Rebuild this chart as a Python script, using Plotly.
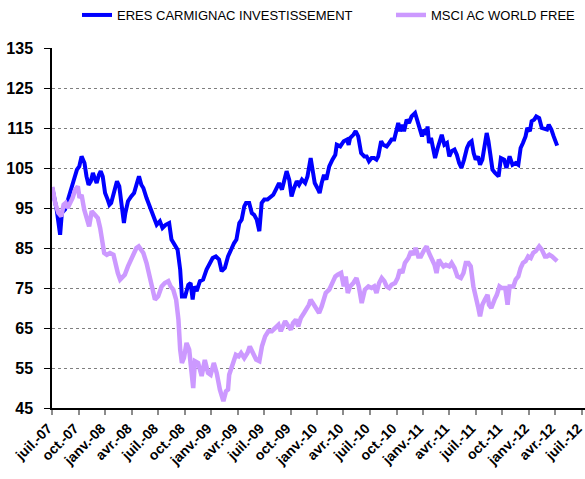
import plotly.graph_objects as go

# ---------------- data ----------------
fund_name = "ERES CARMIGNAC INVESTISSEMENT"
index_name = "MSCI AC WORLD FREE"

fund_dates = [
    "2007-07-02", "2007-07-17", "2007-07-29", "2007-08-04", "2007-08-15", "2007-08-24", "2007-09-02", "2007-09-13", "2007-09-25",
    "2007-10-03", "2007-10-11", "2007-10-21", "2007-10-28", "2007-11-04", "2007-11-12", "2007-11-19", "2007-11-27",
    "2007-12-02", "2007-12-10", "2007-12-16", "2007-12-23", "2007-12-31",
    "2008-01-09", "2008-01-15", "2008-01-21", "2008-01-29", "2008-02-10", "2008-02-18", "2008-02-27",
    "2008-03-05", "2008-03-10", "2008-03-19", "2008-03-30", "2008-04-09", "2008-04-19", "2008-04-26",
    "2008-05-04", "2008-05-11", "2008-05-22", "2008-06-03", "2008-06-14", "2008-06-26",
    "2008-07-07", "2008-07-16", "2008-07-27", "2008-08-08", "2008-08-16", "2008-08-28",
    "2008-09-06", "2008-09-15", "2008-09-21", "2008-10-02", "2008-10-13", "2008-10-21", "2008-10-28",
    "2008-11-03", "2008-11-11", "2008-11-22", "2008-12-03", "2008-12-15", "2008-12-26",
    "2009-01-05", "2009-01-16", "2009-01-27", "2009-02-05", "2009-02-16", "2009-02-27",
    "2009-03-09", "2009-03-20", "2009-03-28", "2009-04-07", "2009-04-15", "2009-04-24", "2009-04-30",
    "2009-05-11", "2009-05-20", "2009-05-28", "2009-06-06", "2009-06-15", "2009-06-23",
    "2009-07-02", "2009-07-13", "2009-07-21", "2009-08-02", "2009-08-11", "2009-08-22",
    "2009-09-01", "2009-09-09", "2009-09-17", "2009-09-26", "2009-10-04", "2009-10-13", "2009-10-22", "2009-10-30",
    "2009-11-09", "2009-11-20", "2009-11-28", "2009-12-09", "2009-12-14", "2009-12-23",
    "2010-01-01", "2010-01-09", "2010-01-16", "2010-01-24", "2010-02-01", "2010-02-11", "2010-02-22",
    "2010-03-04", "2010-03-09", "2010-03-21", "2010-04-02", "2010-04-13", "2010-04-19", "2010-04-24",
    "2010-05-05", "2010-05-13", "2010-05-22", "2010-06-01", "2010-06-12", "2010-06-20", "2010-06-28",
    "2010-07-07", "2010-07-16", "2010-07-24", "2010-07-30", "2010-08-09", "2010-08-16", "2010-08-28",
    "2010-09-06", "2010-09-14", "2010-09-23", "2010-10-01", "2010-10-07", "2010-10-13", "2010-10-21", "2010-10-27",
    "2010-11-05", "2010-11-13", "2010-11-22", "2010-12-04", "2010-12-12", "2010-12-21", "2010-12-28",
    "2011-01-05", "2011-01-13", "2011-01-16", "2011-01-21", "2011-01-28", "2011-02-02", "2011-02-11", "2011-02-20", "2011-02-28",
    "2011-03-06", "2011-03-15", "2011-03-24", "2011-04-01", "2011-04-09", "2011-04-19", "2011-04-27",
    "2011-05-05", "2011-05-13", "2011-05-22", "2011-06-01", "2011-06-09", "2011-06-17", "2011-06-24",
    "2011-07-01", "2011-07-09", "2011-07-16", "2011-07-24", "2011-08-02", "2011-08-08", "2011-08-14", "2011-08-20", "2011-08-28",
    "2011-09-06", "2011-09-18", "2011-09-26", "2011-10-07", "2011-10-15", "2011-10-26",
    "2011-11-05", "2011-11-16", "2011-11-25", "2011-12-03", "2011-12-11", "2011-12-20", "2011-12-26",
    "2012-01-04", "2012-01-10", "2012-01-19", "2012-01-26", "2012-02-05", "2012-02-14", "2012-02-25",
    "2012-03-03", "2012-03-09", "2012-03-18", "2012-03-26", "2012-04-07",
]
fund_values = [
    100, 94.6, 88.3, 93.75, 94.6, 97, 99.6, 101.7, 104.6,
    105.4, 107.9, 106.25, 102.9, 100.8, 101.7, 103.75, 102.1,
    101.25, 103.3, 104.2, 102.9, 98.75,
    97.1, 95.8, 96.25, 98.75, 101.7, 100.4, 95.4,
    91.25, 93.75, 96.7, 97.9, 98.75, 101.25, 102.9,
    100.8, 100, 97.5, 95.4, 92.9, 90.8,
    91.7, 90, 90.8, 91.25, 87.1, 85.8,
    84.6, 79.6, 72.9, 72.9, 75.8, 76.25, 72.1,
    75.4, 74.2, 76.7, 77.1, 79.6, 81.25,
    82.5, 82.9, 82.1, 79.2, 80, 82.9,
    84.6, 86.25, 87.1, 91.25, 92.1, 95.4, 96.25,
    96.25, 93.75, 93.3, 92.1, 89.2, 96.25,
    97.1, 97.1, 97.5, 98.3, 99.6, 101.25,
    99.6, 102.5, 104.2, 102.1, 97.9, 100, 101.7, 100.8,
    102.1, 101.25, 102.9, 107.5, 105.4, 101.25,
    100, 98.75, 101.25, 103.3, 102.1, 105.4, 107.1,
    108.3, 110.8, 110.4, 111.7, 112.1, 110.8, 112.5,
    113.3, 114.2, 112.9, 108.75, 107.9, 107.9, 106.7,
    107.5, 107.5, 107.1, 107.9, 111.7, 110.8, 110.4,
    111.25, 112.1, 112.1, 114.2, 116.25, 114.2, 115.8, 114.2,
    117.1, 116.25, 117.9, 118.75, 116.7, 114.2, 112.9,
    114.6, 113.3, 115.4, 111.25, 112.5, 110.4, 107.5, 110, 112.1,
    113.3, 110.8, 111.25, 107.9, 109.2, 109.6, 108.3,
    106.25, 105, 107.1, 110, 111.25, 111.7, 108.75,
    107.1, 107.9, 105.8, 107.1, 112.1, 113.75, 111.7, 107.9, 104.6,
    103.75, 102.9, 107.5, 107.1, 105, 107.9,
    105.8, 106.25, 105.8, 110, 111.25, 112.9, 115,
    114.2, 116.7, 117.1, 117.9, 117.5, 115, 114.6,
    114.6, 115.8, 114.6, 112.9, 110.6,
]

index_dates = [
    "2007-07-02", "2007-07-12", "2007-07-23", "2007-08-02", "2007-08-10", "2007-08-17", "2007-08-24",
    "2007-09-02", "2007-09-10", "2007-09-19", "2007-09-28", "2007-10-04", "2007-10-11", "2007-10-20", "2007-10-28",
    "2007-11-06", "2007-11-15", "2007-11-27", "2007-12-06", "2007-12-14", "2007-12-22", "2007-12-28",
    "2008-01-06", "2008-01-17", "2008-01-29", "2008-02-04", "2008-02-13", "2008-02-21", "2008-02-29",
    "2008-03-08", "2008-03-19", "2008-03-28", "2008-04-09", "2008-04-17", "2008-04-25", "2008-05-02", "2008-05-11", "2008-05-22",
    "2008-06-03", "2008-06-20", "2008-07-01", "2008-07-13", "2008-07-24", "2008-08-05", "2008-08-13", "2008-08-22",
    "2008-09-01", "2008-09-09", "2008-09-15", "2008-09-21", "2008-09-28", "2008-10-07", "2008-10-16", "2008-10-24", "2008-10-30",
    "2008-11-05", "2008-11-16", "2008-11-28", "2008-12-09", "2008-12-20", "2008-12-29",
    "2009-01-09", "2009-01-19", "2009-01-30", "2009-02-11", "2009-02-20", "2009-02-27",
    "2009-03-03", "2009-03-14", "2009-03-26", "2009-04-05", "2009-04-13", "2009-04-24",
    "2009-05-05", "2009-05-13", "2009-05-22", "2009-06-04", "2009-06-15", "2009-06-24",
    "2009-07-05", "2009-07-16", "2009-07-28", "2009-08-09", "2009-08-20", "2009-08-28",
    "2009-09-06", "2009-09-12", "2009-09-20", "2009-10-02", "2009-10-09", "2009-10-19", "2009-10-27",
    "2009-11-05", "2009-11-16", "2009-11-24", "2009-12-03", "2009-12-09", "2009-12-17", "2009-12-26",
    "2010-01-07", "2010-01-16", "2010-01-24", "2010-01-30", "2010-02-11", "2010-02-22",
    "2010-03-04", "2010-03-12", "2010-03-24", "2010-04-02", "2010-04-09", "2010-04-16", "2010-04-24",
    "2010-05-05", "2010-05-16", "2010-05-24", "2010-06-03", "2010-06-14", "2010-06-26",
    "2010-07-07", "2010-07-16", "2010-07-24", "2010-08-02", "2010-08-11", "2010-08-20", "2010-08-28",
    "2010-09-06", "2010-09-14", "2010-09-26", "2010-10-05", "2010-10-13", "2010-10-21", "2010-10-30",
    "2010-11-11", "2010-11-20", "2010-11-28", "2010-12-06", "2010-12-15", "2010-12-24",
    "2011-01-05", "2011-01-13", "2011-01-21", "2011-01-30", "2011-02-09", "2011-02-16", "2011-02-24",
    "2011-03-03", "2011-03-12", "2011-03-20", "2011-04-01", "2011-04-09", "2011-04-19", "2011-04-29",
    "2011-05-11", "2011-05-20", "2011-05-28", "2011-06-06", "2011-06-14", "2011-06-23",
    "2011-07-01", "2011-07-09", "2011-07-16", "2011-07-24", "2011-08-02", "2011-08-11", "2011-08-16", "2011-08-24",
    "2011-09-04", "2011-09-12", "2011-09-21", "2011-09-29", "2011-10-11", "2011-10-19", "2011-10-26",
    "2011-11-08", "2011-11-16", "2011-11-25", "2011-12-03", "2011-12-11", "2011-12-20", "2011-12-29",
    "2012-01-07", "2012-01-15", "2012-01-24", "2012-02-05", "2012-02-14", "2012-02-25",
    "2012-03-03", "2012-03-11", "2012-03-20", "2012-03-29", "2012-04-07",
]
index_values = [
    100.25, 96.25, 93.75, 92.9, 95.8, 96.25, 95,
    96.25, 97.5, 99.6, 100.4, 97.5, 98.3, 94.6, 92.9,
    90.4, 94.2, 93.3, 92.5, 90, 86.7, 83.75,
    83.3, 83.75, 83.3, 81.25, 78.75, 77.1, 77.9,
    78.3, 80.4, 81.7, 83.75, 85, 85.4, 84.5, 83.75, 81.25,
    77.1, 72.1, 72.9, 75.4, 76.25, 76.7, 75.4, 74.6,
    72.1, 67.1, 59.6, 56.25, 57.5, 61.25, 59.6, 55, 50,
    56.7, 56.25, 53, 57, 53.75, 53.3,
    56.25, 53.75, 49.6, 46.7, 49.2, 49.6,
    53.3, 55.8, 58.3, 57.9, 58.75, 57.5,
    58.75, 60.4, 58.75, 57.1, 56.7, 60.4,
    62.9, 64.2, 64.2, 65, 65.8, 64.2,
    65.4, 66.7, 65.8, 64.6, 66.25, 67.1, 65.4,
    67.5, 68.75, 69.6, 70.8, 72.1, 71.25, 70,
    68.75, 70.4, 72.1, 73.75, 74.6, 76.25,
    77.9, 78.3, 78.75, 75.4, 77.9, 73.75, 75.4,
    76.25, 77.5, 75.4, 71.25, 74.6, 75.4,
    75, 75.4, 73.75, 76.25, 77.5, 76.7, 75.4,
    75, 75.8, 76.25, 77.5, 79.6, 78.75, 81.25,
    82.5, 84.2, 83.3, 85, 82.9, 82.9,
    84.6, 85.4, 83.75, 82.1, 80.8, 78.75, 82.1,
    81.25, 80.4, 80.8, 80.4, 81.25, 80, 77.9,
    77.5, 78.75, 81.25, 81.25, 80.4, 75.4,
    72.1, 70.4, 67.9, 70.8, 72.1, 73.3, 70.8, 70,
    72.1, 73.3, 75.4, 75, 75, 70.8, 75.4,
    75.4, 77.1, 77.9, 80, 81.25, 81.7, 82.9,
    82.5, 83.75, 84.2, 85.4, 84.6, 82.9,
    82.9, 83.3, 82.9, 82.1, 81.7,
]

tick_dates = [
    "2007-07-01", "2007-10-01", "2008-01-01", "2008-04-01", "2008-07-01", "2008-10-01",
    "2009-01-01", "2009-04-01", "2009-07-01", "2009-10-01", "2010-01-01", "2010-04-01",
    "2010-07-01", "2010-10-01", "2011-01-01", "2011-04-01", "2011-07-01", "2011-10-01",
    "2012-01-01", "2012-04-01", "2012-07-01",
]
tick_labels = [
    "juil.-07", "oct.-07", "janv.-08", "avr.-08", "juil.-08", "oct.-08",
    "janv.-09", "avr.-09", "juil.-09", "oct.-09", "janv.-10", "avr.-10",
    "juil.-10", "oct.-10", "janv.-11", "avr.-11", "juil.-11", "oct.-11",
    "janv.-12", "avr.-12", "juil.-12",
]
y_ticks = [45, 55, 65, 75, 85, 95, 105, 115, 125, 135]

# ---------------- figure ----------------
FONT = "Liberation Sans, Arial, sans-serif"

fig = go.Figure()
fig.add_trace(go.Scatter(
    x=fund_dates, y=fund_values, mode="lines", name=fund_name,
    line=dict(color="#0000FF", width=4), legendwidth=269,
))
fig.add_trace(go.Scatter(
    x=index_dates, y=index_values, mode="lines", name=index_name,
    line=dict(color="#CC99FF", width=4.5), legendwidth=140,
))

fig.update_layout(
    template="none",
    width=585, height=479,
    margin=dict(l=52, r=0, t=48, b=71, autoexpand=False),
    paper_bgcolor="white", plot_bgcolor="white",
    font=dict(family=FONT, color="black"),
    showlegend=True,
    legend=dict(
        orientation="h", xref="container", yref="container",
        x=77 / 585, y=1.0, xanchor="left", yanchor="top",
        font=dict(size=13, family=FONT, color="black"),
        entrywidthmode="pixels",
        bgcolor="rgba(0,0,0,0)", traceorder="normal", borderwidth=0,
    ),
)

fig.update_xaxes(
    type="date", range=["2007-07-01", "2012-07-12"], automargin=False,
    tickmode="array", tickvals=tick_dates, ticktext=tick_labels,
    tickangle=-45, tickfont=dict(size=14, family=FONT, weight="bold", color="black"),
    ticklabeloverflow="allow", ticklabelshift=-4,
    showgrid=False, zeroline=False,
    showline=True, linecolor="black", linewidth=1.5,
    ticks="outside", ticklen=5, tickcolor="#8c8c8c", tickwidth=1.5,
)
fig.update_yaxes(
    range=[45, 135], tickmode="array", tickvals=y_ticks, automargin=False,
    tickfont=dict(size=16, family=FONT, weight="bold", color="black"),
    showgrid=True, gridcolor="#7f7f7f", griddash="dot", gridwidth=1,
    zeroline=False,
    showline=True, linecolor="black", linewidth=1.5,
    ticks="outside", ticklen=6, tickcolor="black", tickwidth=1,
    ticklabelstandoff=8,
)

fig.write_html(
    "out.html",
    config={"displayModeBar": False},
    post_script="document.body.style.margin='0';document.body.style.overflow='hidden';",
)
